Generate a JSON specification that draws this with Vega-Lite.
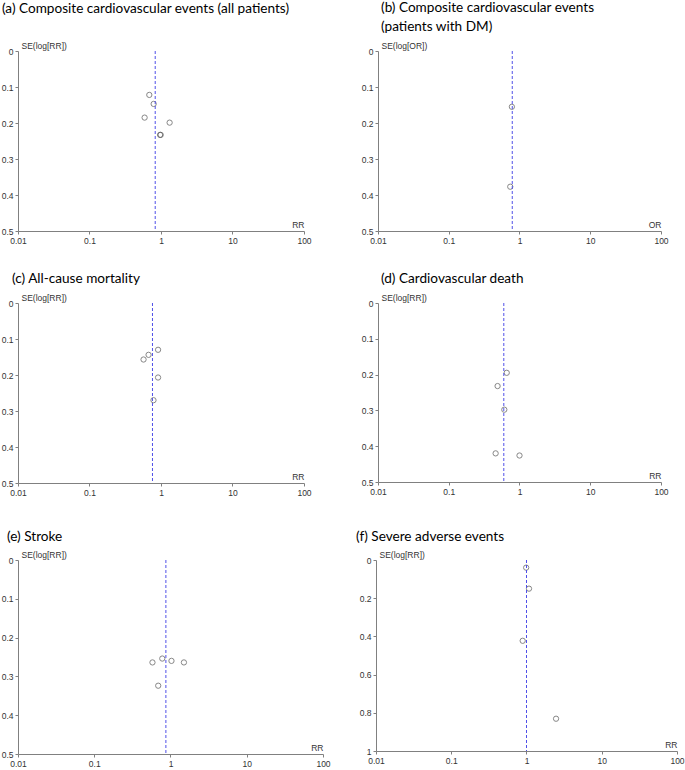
{
  "$schema": "https://vega.github.io/schema/vega-lite/v6.json",
  "padding": {"left": 1, "top": 1, "right": 0, "bottom": 0},
  "background": "white",
  "config": {
    "view": {"stroke": null},
    "title": {"font": "Lato", "fontSize": 13.6, "fontWeight": "normal", "color": "#000", "anchor": "start", "frame": "group"},
    "axis": {"grid": false, "domainColor": "#808080", "tickColor": "#808080", "labelFont": "Liberation Sans", "labelFontSize": 8.5, "labelColor": "#333", "titleFont": "Liberation Sans", "titleFontSize": 8.5, "titleFontWeight": "normal", "titleColor": "#333", "tickSize": 3, "labelPadding": 2, "labelFlush": false, "labelOverlap": false},
    "axisX": {"titleAngle": 0, "titleAlign": "right", "titleBaseline": "bottom", "titleY": -2},
    "axisY": {"titleAngle": 0, "titleAlign": "left", "titleBaseline": "bottom", "titleX": 3, "titleY": -1}
  },
  "spacing": 33,
  "vconcat": [
    {
      "spacing": 27,
      "vconcat": [
        {
          "spacing": 49,
          "hconcat": [
            {
              "width": 286, "height": 180,
              "title": {"text": "(a) Composite cardiovascular events (all patients)", "dx": -16, "offset": 25},
              "encoding": {"x": {"field": "rr", "type": "quantitative", "scale": {"type": "log", "domain": [0.01, 100], "nice": false}, "axis": {"values": [0.01, 0.1, 1, 10, 100], "format": "~g", "title": "RR", "titleX": 286}}},
              "layer": [
                {"data": {"values": [{"rr": 0.686, "se": 0.122}, {"rr": 0.789, "se": 0.147}, {"rr": 0.59, "se": 0.185}, {"rr": 1.32, "se": 0.199}, {"rr": 0.97, "se": 0.233}, {"rr": 0.99, "se": 0.233}]},
                 "mark": {"type": "point", "shape": "circle", "filled": false, "size": 28, "stroke": "#555", "strokeWidth": 1},
                 "encoding": {"y": {"field": "se", "type": "quantitative", "scale": {"domain": [0, 0.5], "reverse": true, "nice": false}, "axis": {"values": [0, 0.1, 0.2, 0.3, 0.4, 0.5], "format": "~g", "title": "SE(log[RR])"}}}},
                {"data": {"values": [{"rr": 0.83}]}, "mark": {"type": "rule", "color": "#5050e8", "strokeDash": [3, 2], "strokeWidth": 1}, "encoding": {}}
              ]
            },
            {
              "width": 283, "height": 180,
              "title": {"text": ["(b) Composite cardiovascular events", "\u00a0\u00a0\u00a0\u00a0\u00a0(patients with DM)"], "lineHeight": 19, "dx": 3, "offset": 7},
              "encoding": {"x": {"field": "rr", "type": "quantitative", "scale": {"type": "log", "domain": [0.01, 100], "nice": false}, "axis": {"values": [0.01, 0.1, 1, 10, 100], "format": "~g", "title": "OR", "titleX": 283}}},
              "layer": [
                {"data": {"values": [{"rr": 0.78, "se": 0.155}, {"rr": 0.74, "se": 0.377}]},
                 "mark": {"type": "point", "shape": "circle", "filled": false, "size": 28, "stroke": "#555", "strokeWidth": 1},
                 "encoding": {"y": {"field": "se", "type": "quantitative", "scale": {"domain": [0, 0.5], "reverse": true, "nice": false}, "axis": {"values": [0, 0.1, 0.2, 0.3, 0.4, 0.5], "format": "~g", "title": "SE(log[OR])"}}}},
                {"data": {"values": [{"rr": 0.79}]}, "mark": {"type": "rule", "color": "#5050e8", "strokeDash": [3, 2], "strokeWidth": 1}, "encoding": {}}
              ]
            }
          ]
        },
        {
          "spacing": 49,
          "hconcat": [
            {
              "width": 286, "height": 180,
              "title": {"text": "(c) All-cause mortality", "dx": -6, "offset": 7},
              "encoding": {"x": {"field": "rr", "type": "quantitative", "scale": {"type": "log", "domain": [0.01, 100], "nice": false}, "axis": {"values": [0.01, 0.1, 1, 10, 100], "format": "~g", "title": "RR", "titleX": 286}}},
              "layer": [
                {"data": {"values": [{"rr": 0.91, "se": 0.13}, {"rr": 0.67, "se": 0.144}, {"rr": 0.57, "se": 0.157}, {"rr": 0.91, "se": 0.207}, {"rr": 0.785, "se": 0.27}]},
                 "mark": {"type": "point", "shape": "circle", "filled": false, "size": 28, "stroke": "#555", "strokeWidth": 1},
                 "encoding": {"y": {"field": "se", "type": "quantitative", "scale": {"domain": [0, 0.5], "reverse": true, "nice": false}, "axis": {"values": [0, 0.1, 0.2, 0.3, 0.4, 0.5], "format": "~g", "title": "SE(log[RR])"}}}},
                {"data": {"values": [{"rr": 0.76}]}, "mark": {"type": "rule", "color": "#5050e8", "strokeDash": [3, 2], "strokeWidth": 1}, "encoding": {}}
              ]
            },
            {
              "width": 283, "height": 179,
              "title": {"text": "(d) Cardiovascular death", "dx": 3, "offset": 7},
              "encoding": {"x": {"field": "rr", "type": "quantitative", "scale": {"type": "log", "domain": [0.01, 100], "nice": false}, "axis": {"values": [0.01, 0.1, 1, 10, 100], "format": "~g", "title": "RR", "titleX": 283}}},
              "layer": [
                {"data": {"values": [{"rr": 0.66, "se": 0.195}, {"rr": 0.49, "se": 0.232}, {"rr": 0.61, "se": 0.298}, {"rr": 0.46, "se": 0.42}, {"rr": 1.0, "se": 0.426}]},
                 "mark": {"type": "point", "shape": "circle", "filled": false, "size": 28, "stroke": "#555", "strokeWidth": 1},
                 "encoding": {"y": {"field": "se", "type": "quantitative", "scale": {"domain": [0, 0.5], "reverse": true, "nice": false}, "axis": {"values": [0, 0.1, 0.2, 0.3, 0.4, 0.5], "format": "~g", "title": "SE(log[RR])"}}}},
                {"data": {"values": [{"rr": 0.6}]}, "mark": {"type": "rule", "color": "#5050e8", "strokeDash": [3, 2], "strokeWidth": 1}, "encoding": {}}
              ]
            }
          ]
        }
      ]
    },
    {
      "spacing": 25,
      "hconcat": [
        {
          "width": 305, "height": 194,
          "title": {"text": "(e) Stroke", "dx": -11, "offset": 6},
          "encoding": {"x": {"field": "rr", "type": "quantitative", "scale": {"type": "log", "domain": [0.01, 100], "nice": false}, "axis": {"values": [0.01, 0.1, 1, 10, 100], "format": "~g", "title": "RR", "titleX": 305}}},
          "layer": [
            {"data": {"values": [{"rr": 0.58, "se": 0.264}, {"rr": 0.78, "se": 0.254}, {"rr": 1.03, "se": 0.26}, {"rr": 1.5, "se": 0.264}, {"rr": 0.69, "se": 0.324}]},
             "mark": {"type": "point", "shape": "circle", "filled": false, "size": 28, "stroke": "#555", "strokeWidth": 1},
             "encoding": {"y": {"field": "se", "type": "quantitative", "scale": {"domain": [0, 0.5], "reverse": true, "nice": false}, "axis": {"values": [0, 0.1, 0.2, 0.3, 0.4, 0.5], "format": "~g", "title": "SE(log[RR])"}}}},
            {"data": {"values": [{"rr": 0.87}]}, "mark": {"type": "rule", "color": "#5050e8", "strokeDash": [3, 2], "strokeWidth": 1}, "encoding": {}}
          ]
        },
        {
          "width": 301, "height": 191,
          "title": {"text": "(f) Severe adverse events", "dx": -20, "offset": 6},
          "encoding": {"x": {"field": "rr", "type": "quantitative", "scale": {"type": "log", "domain": [0.01, 100], "nice": false}, "axis": {"values": [0.01, 0.1, 1, 10, 100], "format": "~g", "title": "RR", "titleX": 301}}},
          "layer": [
            {"data": {"values": [{"rr": 0.99, "se": 0.04}, {"rr": 1.08, "se": 0.15}, {"rr": 0.89, "se": 0.423}, {"rr": 2.47, "se": 0.831}]},
             "mark": {"type": "point", "shape": "circle", "filled": false, "size": 28, "stroke": "#555", "strokeWidth": 1},
             "encoding": {"y": {"field": "se", "type": "quantitative", "scale": {"domain": [0, 1], "reverse": true, "nice": false}, "axis": {"values": [0, 0.2, 0.4, 0.6, 0.8, 1], "format": "~g", "title": "SE(log[RR])"}}}},
            {"data": {"values": [{"rr": 1.0}]}, "mark": {"type": "rule", "color": "#5050e8", "strokeDash": [3, 2], "strokeWidth": 1}, "encoding": {}}
          ]
        }
      ]
    }
  ]
}
